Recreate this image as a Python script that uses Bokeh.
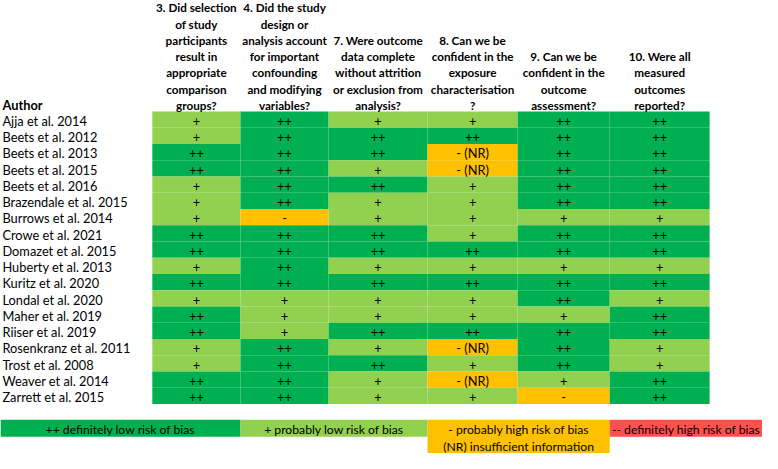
from bokeh.plotting import figure
from bokeh.models import Range1d, ColumnDataSource
from bokeh.core.properties import value
from bokeh.embed import file_html
from bokeh.resources import INLINE

# ---------------- data ----------------
authors = [
    "Ajja et al. 2014", "Beets et al. 2012", "Beets et al. 2013", "Beets et al. 2015",
    "Beets et al. 2016", "Brazendale et al. 2015", "Burrows et al. 2014", "Crowe et al. 2021",
    "Domazet et al. 2015", "Huberty et al. 2013", "Kuritz et al. 2020", "Londal et al. 2020",
    "Maher et al. 2019", "Riiser et al. 2019", "Rosenkranz et al. 2011", "Trost et al. 2008",
    "Weaver et al. 2014", "Zarrett et al. 2015",
]

q3 = ["+", "+", "++", "++", "+", "+", "+", "++", "++", "+", "++", "+", "++", "++", "+", "+", "++", "++"]
q4 = ["++", "++", "++", "++", "++", "++", "-", "++", "++", "++", "++", "+", "+", "+", "++", "++", "++", "++"]
q7 = ["+", "++", "++", "+", "++", "+", "+", "++", "++", "+", "++", "+", "+", "++", "+", "++", "+", "+"]
q8 = ["+", "++", "- (NR)", "- (NR)", "+", "+", "+", "+", "++", "+", "++", "+", "+", "++", "- (NR)", "+", "- (NR)", "+"]
q9 = ["++", "++", "++", "++", "++", "++", "+", "++", "++", "+", "++", "++", "+", "++", "++", "++", "+", "-"]
q10 = ["++", "++", "++", "++", "++", "++", "+", "++", "++", "+", "++", "+", "++", "++", "+", "+", "++", "++"]

question_ratings = [q3, q4, q7, q8, q9, q10]

question_headers = [
    ["3. Did selection", "of study", "participants", "result in", "appropriate", "comparison", "groups?"],
    ["4. Did the study", "design or", "analysis account", "for important", "confounding", "and modifying", "variables?"],
    ["7. Were outcome", "data complete", "without attrition", "or exclusion from", "analysis?"],
    ["8. Can we be", "confident in the", "exposure", "characterisation", "?"],
    ["9. Can we be", "confident in the", "outcome", "assessment?"],
    ["10. Were all", "measured", "outcomes", "reported?"],
]

legend_labels = [
    ["++ definitely low risk of bias"],
    ["+ probably low risk of bias"],
    ["- probably high risk of bias", "(NR) insufficient information"],
    ["-- definitely high risk of bias"],
]
legend_keys = ["++", "+", "-", "--"]

# ---------------- style / layout ----------------
COLORS = {"++": "#00B050", "+": "#92D050", "-": "#FFC000", "- (NR)": "#FFC000", "--": "#FF5050"}
FONT = "Lato"
FS = "12.8px"
HFS = "11.7px"
LFS = "12.2px"

W_REF, H_REF = 778, 469
col_edges = [155, 245, 335, 436, 528, 622, 724]
legend_edges = [0, 245, 436, 622, 778]
row_top0 = 113.3
row_h = 16.9
text_dy = 1.4
header_bottom = 106.5
legend_top = 434
legend_line_h = 17.6

p = figure(width=762, height=453, x_range=Range1d(0, W_REF), y_range=Range1d(H_REF, -2),
           output_backend="svg", toolbar_location=None, min_border=0)
p.axis.visible = False
p.grid.visible = False
p.outline_line_color = None
p.background_fill_color = "white"
p.border_fill_color = "white"

# cells
L, R, T, B, C, X, Y, TX = [], [], [], [], [], [], [], []
for j, ratings in enumerate(question_ratings):
    for i, r in enumerate(ratings):
        top = row_top0 + i * row_h
        L.append(col_edges[j]); R.append(col_edges[j + 1])
        T.append(top); B.append(top + row_h)
        C.append(COLORS[r])
        X.append((col_edges[j] + col_edges[j + 1]) / 2)
        Y.append(top + row_h / 2 + text_dy)
        TX.append(r)
cells = ColumnDataSource(dict(left=L, right=R, top=T, bottom=B, color=C, x=X, y=Y, text=TX))
p.quad(left="left", right="right", top="top", bottom="bottom", fill_color="color",
       line_color=None, source=cells)
p.text(x="x", y="y", text="text", source=cells, text_align="center", text_baseline="middle",
       text_font=value(FONT), text_font_size=FS, text_color="black")

# author labels
ay = [row_top0 + i * row_h + row_h / 2 + text_dy for i in range(len(authors))]
p.text(x=[2] * len(authors), y=ay, text=authors, text_align="left", text_baseline="middle",
       text_font=value(FONT), text_font_size=FS, text_color="black")

# headers
hx, hy, ht = [], [], []
for j, lines in enumerate(question_headers):
    n = len(lines)
    for k, line in enumerate(lines):
        hx.append((col_edges[j] + col_edges[j + 1]) / 2)
        hy.append(header_bottom - (n - 1 - k) * row_h)
        ht.append(line)
p.text(x=hx, y=hy, text=ht, text_align="center", text_baseline="middle",
       text_font=value(FONT), text_font_size=HFS, text_font_style="bold", text_color="black")
p.text(x=[2], y=[header_bottom], text=["Author"], text_align="left", text_baseline="middle",
       text_font=value(FONT), text_font_size=FS, text_font_style="bold", text_color="black")

# legend
lL, lR, lT, lB, lC, lx, ly, lt = [], [], [], [], [], [], [], []
for k, (key, lines) in enumerate(zip(legend_keys, legend_labels)):
    lL.append(legend_edges[k]); lR.append(legend_edges[k + 1])
    lT.append(legend_top); lB.append(legend_top + legend_line_h * len(lines) + (0.6 if len(lines) > 1 else 0))
    lC.append(COLORS[key])
    for m, line in enumerate(lines):
        lx.append((legend_edges[k] + legend_edges[k + 1]) / 2)
        ly.append(legend_top + legend_line_h * m + legend_line_h / 2 + 1)
        lt.append(line)
p.quad(left=lL, right=lR, top=lT, bottom=lB, fill_color=lC, line_color=None)
p.text(x=lx, y=ly, text=lt, text_align="center", text_baseline="middle",
       text_font=value(FONT), text_font_size=LFS, text_color="black")

open("out.html", "w").write(file_html(p, INLINE))
